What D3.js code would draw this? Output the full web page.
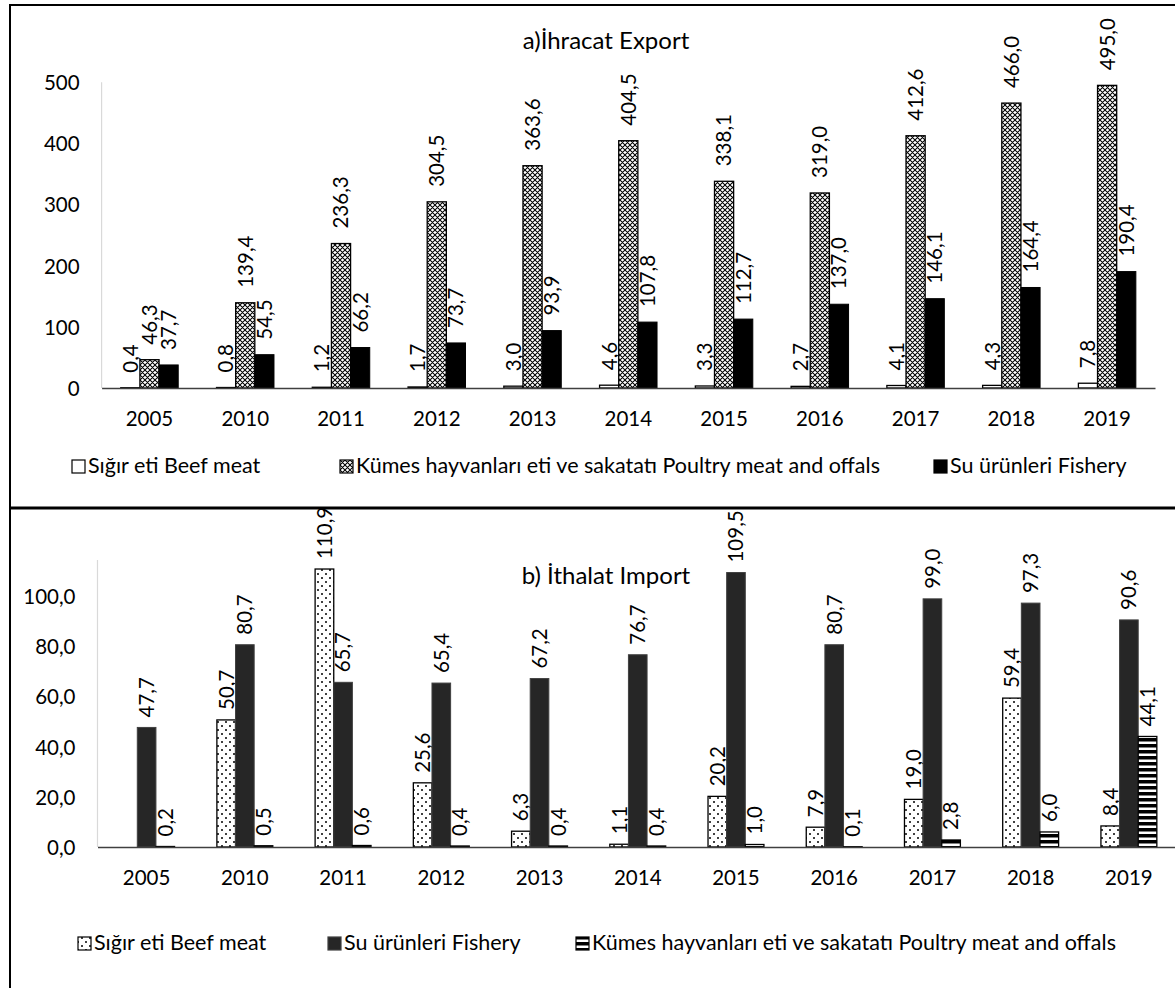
<!DOCTYPE html>
<html>
<head>
<meta charset="utf-8">
<script src="https://cdn.jsdelivr.net/npm/d3@7"></script>
<style>
  html, body { margin: 0; padding: 0; background: #fff; }
  svg { display: block; }
  text { font-family: Lato, "Open Sans", sans-serif; fill: #000; }
</style>
</head>
<body>
<svg id="chart" width="1175" height="988"></svg>
<script>
// ---------- DATA ----------
const years = ["2005","2010","2011","2012","2013","2014","2015","2016","2017","2018","2019"];

// a) İhracat Export
const exportBeef    = [0.4, 0.8, 1.2, 1.7, 3.0, 4.6, 3.3, 2.7, 4.1, 4.3, 7.8];
const exportPoultry = [46.3, 139.4, 236.3, 304.5, 363.6, 404.5, 338.1, 319.0, 412.6, 466.0, 495.0];
const exportFishery = [37.7, 54.5, 66.2, 73.7, 93.9, 107.8, 112.7, 137.0, 146.1, 164.4, 190.4];
const exportTicks   = [0, 100, 200, 300, 400, 500];
const exportSeriesNames = ["Sığır eti Beef meat", "Kümes hayvanları eti ve sakatatı Poultry meat and offals", "Su ürünleri Fishery"];

// b) İthalat Import
const importBeef    = [null, 50.7, 110.9, 25.6, 6.3, 1.1, 20.2, 7.9, 19.0, 59.4, 8.4];
const importFishery = [47.7, 80.7, 65.7, 65.4, 67.2, 76.7, 109.5, 80.7, 99.0, 97.3, 90.6];
const importPoultry = [0.2, 0.5, 0.6, 0.4, 0.4, 0.4, 1.0, 0.1, 2.8, 6.0, 44.1];
const importTicks   = [0, 20, 40, 60, 80, 100];
const importSeriesNames = ["Sığır eti Beef meat", "Su ürünleri Fishery", "Kümes hayvanları eti ve sakatatı Poultry meat and offals"];

const titleExport = "a)İhracat Export";
const titleImport = "b) İthalat Import";

// ---------- SETUP ----------
const trLocale = d3.formatLocale({decimal: ",", thousands: ".", grouping: [3], currency: ["", ""]});
const f1 = trLocale.format(".1f");
const f0 = trLocale.format("d");

const svg = d3.select("#chart");
const defs = svg.append("defs");

// pattern: cross-hatch (export poultry)
const pCross = defs.append("pattern").attr("id", "pCross").attr("patternUnits", "userSpaceOnUse")
  .attr("width", 5).attr("height", 5);
pCross.append("rect").attr("width", 5).attr("height", 5).attr("fill", "#fff");
pCross.append("path").attr("d", "M0,0L5,5M5,0L0,5M-1,4L1,6M4,-1L6,1M-1,1L1,-1M4,6L6,4")
  .attr("stroke", "#000").attr("stroke-width", 1.05);

// pattern: dots (import beef)
const pDots = defs.append("pattern").attr("id", "pDots").attr("patternUnits", "userSpaceOnUse")
  .attr("width", 8).attr("height", 8);
pDots.append("rect").attr("width", 8).attr("height", 8).attr("fill", "#fff");
pDots.append("circle").attr("cx", 2).attr("cy", 2).attr("r", 1).attr("fill", "#000");
pDots.append("circle").attr("cx", 6).attr("cy", 6).attr("r", 1).attr("fill", "#000");

// pattern: horizontal stripes (import poultry)
const pStripe = defs.append("pattern").attr("id", "pStripe").attr("patternUnits", "userSpaceOnUse")
  .attr("width", 6).attr("height", 6);
pStripe.append("rect").attr("width", 6).attr("height", 6).attr("fill", "#fff");
pStripe.append("rect").attr("y", 0).attr("width", 6).attr("height", 3.5).attr("fill", "#000");

// ---------- FRAME ----------
svg.append("line").attr("x1", 9).attr("x2", 1175).attr("y1", 5).attr("y2", 5).attr("stroke", "#000").attr("stroke-width", 2);
svg.append("line").attr("x1", 10).attr("x2", 10).attr("y1", 4).attr("y2", 988).attr("stroke", "#000").attr("stroke-width", 2);
svg.append("line").attr("x1", 9).attr("x2", 1175).attr("y1", 508).attr("y2", 508).attr("stroke", "#000").attr("stroke-width", 3);

// ---------- PANEL ----------
function drawPanel(cfg) {
  const g = svg.append("g");
  const x = d3.scaleBand().domain(years).range([cfg.x0, cfg.x1]);
  const bw = x.bandwidth();
  const barW = bw / (3 + cfg.gap);
  const xs = d3.scaleBand().domain([0, 1, 2]).range([(bw - 3 * barW) / 2, (bw + 3 * barW) / 2]);
  const y = d3.scaleLinear().domain([0, cfg.yMax]).range([cfg.y0, cfg.yTop]);

  // y axis line (light gray)
  g.append("line").attr("x1", cfg.x0).attr("x2", cfg.x0).attr("y1", cfg.yTop).attr("y2", cfg.y0)
    .attr("stroke", "#d9d9d9").attr("stroke-width", 1.2);

  // y tick labels
  const yAxis = g.append("g").attr("transform", `translate(${cfg.x0},0)`)
    .call(d3.axisLeft(y).tickValues(cfg.ticks).tickSize(0).tickPadding(cfg.tickPad).tickFormat(cfg.tickFmt));
  yAxis.select(".domain").remove();
  yAxis.selectAll("text").style("font-family", "Lato").style("font-size", "20.5px").attr("fill", "#000").attr("dy", "0.36em");

  // bars
  cfg.series.forEach((vals, si) => {
    const st = cfg.styles[si];
    const data = years.map((yr, i) => ({yr, v: vals[i]})).filter(d => d.v !== null);
    g.selectAll(null).data(data).enter().append("rect")
      .attr("x", d => x(d.yr) + xs(si))
      .attr("width", xs.bandwidth())
      .attr("y", d => y(d.v))
      .attr("height", d => y(0) - y(d.v))
      .attr("fill", st.fill)
      .attr("stroke", st.stroke)
      .attr("stroke-width", st.sw);
    g.selectAll(null).data(data).enter().append("text")
      .attr("transform", d => `translate(${x(d.yr) + xs(si) + xs.bandwidth() / 2},${y(d.v) - cfg.labelGap}) rotate(-90)`)
      .attr("dy", "0.36em")
      .attr("text-anchor", "start")
      .style("font-size", "20.5px")
      .text(d => f1(d.v));
  });

  // x axis
  const xAxis = g.append("g").attr("transform", `translate(0,${cfg.y0})`)
    .call(d3.axisBottom(x).tickSize(0).tickPadding(0));
  xAxis.select(".domain").attr("stroke", "#404040").attr("stroke-width", 1.5);
  xAxis.selectAll("text").style("font-family", "Lato").style("font-size", "20.5px").attr("fill", "#000")
    .attr("y", 31).attr("dy", "0.36em");

  // title
  g.append("text").attr("x", 606).attr("y", cfg.titleY).attr("text-anchor", "middle")
    .style("font-size", "24px").text(cfg.title);

  // legend
  cfg.names.forEach((name, si) => {
    const st = cfg.styles[si];
    const lx = cfg.legendX[si];
    g.append("rect").attr("x", lx).attr("y", cfg.legendY - 13).attr("width", 13).attr("height", 13)
      .attr("fill", st.fill).attr("stroke", st.legendStroke || st.stroke).attr("stroke-width", 1.2);
    g.append("text").attr("x", lx + 16).attr("y", cfg.legendY).style("font-size", "21.5px").text(name);
  });
}

drawPanel({
  x0: 101.6, x1: 1155, y0: 388, yTop: 82.3, yMax: 500, gap: 2,
  ticks: exportTicks, tickFmt: f0, tickPad: 22,
  series: [exportBeef, exportPoultry, exportFishery],
  styles: [
    {fill: "#fff", stroke: "#000", sw: 1.3},
    {fill: "url(#pCross)", stroke: "#000", sw: 1.3},
    {fill: "#000", stroke: "#000", sw: 1}
  ],
  labelGap: 15,
  title: titleExport, titleY: 49,
  names: exportSeriesNames, legendX: [72, 340, 934], legendY: 473
});

drawPanel({
  x0: 97.5, x1: 1178, y0: 847, yTop: 560, yMax: 114.5, gap: 2.27,
  ticks: importTicks, tickFmt: f1, tickPad: 22,
  series: [importBeef, importFishery, importPoultry],
  styles: [
    {fill: "url(#pDots)", stroke: "#000", sw: 1.3},
    {fill: "#262626", stroke: "#404040", sw: 1},
    {fill: "url(#pStripe)", stroke: "#000", sw: 1.3}
  ],
  labelGap: 10,
  title: titleImport, titleY: 584,
  names: importSeriesNames, legendX: [78, 328, 576], legendY: 950
});
</script>
</body>
</html>
